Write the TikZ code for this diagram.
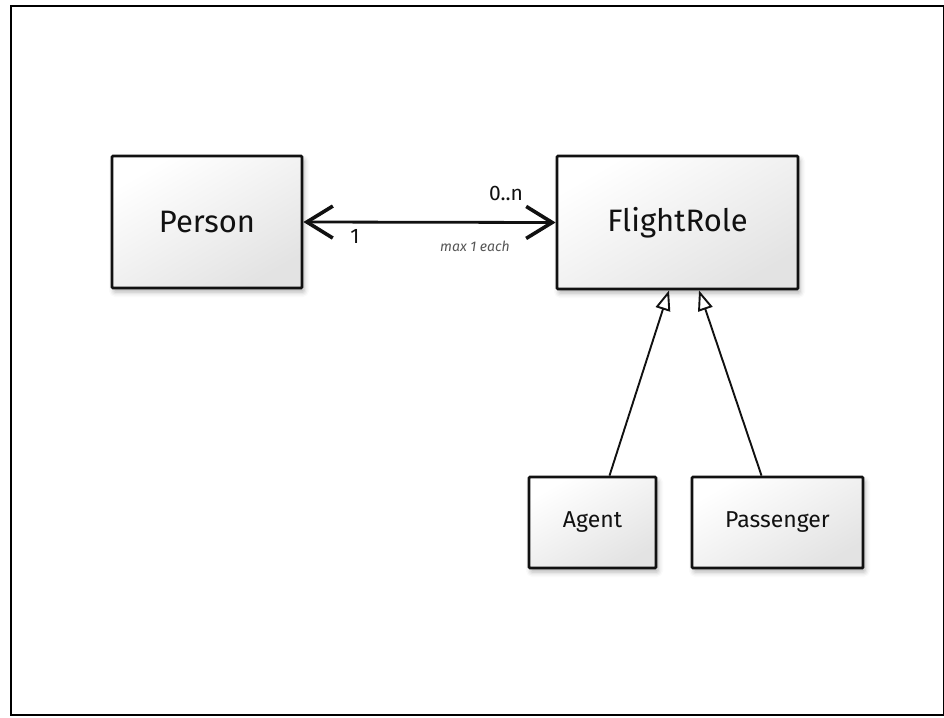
\documentclass[tikz,border=0pt]{standalone}
\usepackage{fontspec}
\setmainfont{Fira Sans}
\usetikzlibrary{arrows.meta,calc,shadows.blur}
\definecolor{inkc}{HTML}{111111}
\definecolor{labgray}{HTML}{555555}
\tikzset{
  classbox/.style={draw=inkc, line width=2.8pt, rounded corners=1pt,
    top color=white, bottom color=black!11, shading angle=30,
    blur shadow={shadow xshift=2pt, shadow yshift=-4pt, shadow blur radius=5pt, shadow opacity=30},
    inner sep=0pt, align=center, text=inkc},
  bigtext/.style={font=\fontsize{31}{34}\selectfont},
  smalltext/.style={font=\fontsize{23}{26}\selectfont},
  assoc/.style={draw=inkc, line width=2.8pt,
    {Straight Barb[length=26pt,width=32pt,line width=3.6pt]}-{Straight Barb[length=26pt,width=32pt,line width=3.6pt]}},
  inherit/.style={draw=inkc, line width=1.9pt,
    -{Triangle[open,length=20pt,width=15pt,line width=1.9pt,fill=white]}},
  mult/.style={font=\fontsize{21}{24}\selectfont, text=inkc, inner sep=0pt},
  note/.style={font=\itshape\fontsize{14}{16}\selectfont, text=labgray, inner sep=0pt}
}
\begin{document}
\begin{tikzpicture}[x=1pt,y=-1pt]
\useasboundingbox (0,0) rectangle (944,717);
\draw[line width=1.6pt, draw=black] (11,6) rectangle (943.5,715);

\node[classbox, bigtext, minimum width=190pt, minimum height=132pt] (person) at (207,222) {Person};
\node[classbox, bigtext, minimum width=241pt, minimum height=133pt] (flight) at (677.5,222.5) {FlightRole};
\node[classbox, smalltext, minimum width=127pt, minimum height=91pt] (agent) at (592.5,522.5) {Agent};
\node[classbox, smalltext, minimum width=171pt, minimum height=91pt] (pass) at (777.5,522.5) {Passenger};

\draw[assoc] (person.east) -- (flight.west);
\node[mult] (m0n) at (506,193) {0..n};
\node[mult] (m1) at (355,236) {1};
\node[note] (maxeach) at (475,246) {max 1 each};

\draw[inherit] ($(agent.north)+(17,0)$) -- ($(flight.south)+(-8.5,0)$);
\draw[inherit] ($(pass.north)+(-16,0)$) -- ($(flight.south)+(21.5,0)$);
\end{tikzpicture}
\end{document}
